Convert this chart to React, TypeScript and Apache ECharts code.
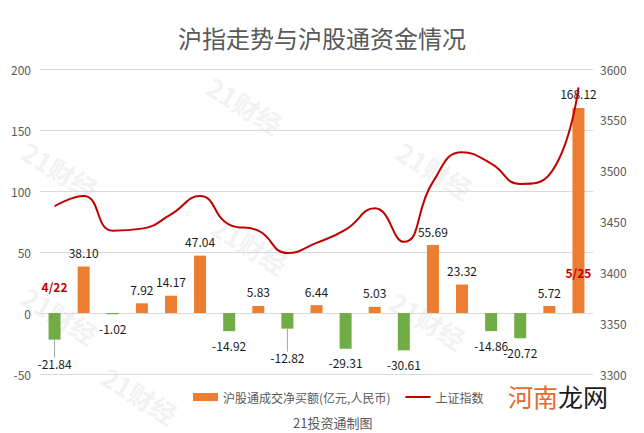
import React, { useEffect, useRef } from "react";
import * as echarts from "echarts";

const categories = ["4/22", "4/23", "4/26", "4/27", "4/28", "4/29", "4/30", "5/6", "5/7", "5/10", "5/11", "5/12", "5/13", "5/14", "5/17", "5/20", "5/21", "5/24", "5/25"];
const netBuy = [-21.84, 38.1, -1.02, 7.92, 14.17, 47.04, -14.92, 5.83, -12.82, 6.44, -29.31, 5.03, -30.61, 55.69, 23.32, -14.86, -20.72, 5.72, 168.12];
const indexValues = [3465, 3475, 3441, 3443, 3457, 3475, 3447, 3441, 3419, 3429, 3442, 3463, 3430, 3489, 3518, 3507, 3487, 3496, 3582];
const leftTicks = { min: -50, max: 200, interval: 50 };
const rightTicks = { min: 3300, max: 3600, interval: 50 };
const dateMarks = [
  { date: "4/22", at: 22 },
  { date: "5/25", at: 33 },
];
const watermarkSpots = [
  [245, 105],
  [60, 170],
  [435, 170],
  [250, 245],
  [60, 315],
  [428, 320],
  [140, 395],
];

const FONT = "'Microsoft YaHei', 'Noto Sans CJK SC', sans-serif";

export default function App() {
  const ref = useRef<HTMLDivElement>(null);
  useEffect(() => {
    document.body.style.margin = "0";
    if (!ref.current) return;
    const chart = echarts.init(ref.current, undefined, { renderer: "svg" });
    const watermarks = watermarkSpots.map(([x, y]) => ({
      type: "text",
      x,
      y,
      rotation: -0.55,
      z: -10,
      silent: true,
      style: {
        text: "21财经",
        fill: "rgba(200,200,200,0.22)",
        font: "bold 26px 'Noto Sans CJK SC', sans-serif",
        align: "center",
        verticalAlign: "middle",
      },
    }));
    chart.setOption({
      animation: false,
      backgroundColor: "#ffffff",
      textStyle: { fontFamily: FONT },
      title: {
        text: "沪指走势与沪股通资金情况",
        left: "center",
        top: 20,
        textStyle: { fontSize: 24, fontWeight: "normal", color: "#595959", fontFamily: FONT },
      },
      legend: {
        left: 188,
        top: 386,
        itemGap: 15,
        itemWidth: 25,
        itemHeight: 8,
        textStyle: { fontSize: 12, color: "#595959", fontFamily: FONT },
        data: [
          { name: "沪股通成交净买额(亿元,人民币)", icon: "rect" },
          { name: "上证指数", icon: "path://M0,0 L25,0 L25,2 L0,2 Z" },
        ],
      },
      grid: { left: 40, right: 51, top: 69, bottom: 59 },
      xAxis: {
        type: "category",
        data: categories,
        axisLine: { show: false },
        axisTick: { show: false },
        axisLabel: { show: false },
      },
      yAxis: [
        {
          type: "value",
          ...leftTicks,
          axisLine: { show: false },
          axisTick: { show: false },
          axisLabel: { color: "#595959", fontSize: 12, margin: 9 },
          splitLine: { lineStyle: { color: "#d9d9d9" } },
        },
        {
          type: "value",
          ...rightTicks,
          axisLine: { show: false },
          axisTick: { show: false },
          axisLabel: { color: "#595959", fontSize: 12, margin: 7, formatter: (v: number) => String(v) },
          splitLine: { show: false },
        },
      ],
      series: [
        {
          name: "沪股通成交净买额(亿元,人民币)",
          type: "bar",
          barWidth: 12,
          itemStyle: { color: "#ED7D31" },
          data: netBuy.map((v, i) => ({
            value: v,
            itemStyle: { color: v >= 0 ? "#ED7D31" : "#70AD47" },
            label: { position: v >= 0 ? "top" : "bottom" },
            labelLine: i === 0 || i === 8 ? { show: true, lineStyle: { color: "#a6a6a6", width: 1 } } : { show: false },
          })),
          label: {
            show: true,
            distance: 8,
            color: "#1a1a1a",
            fontSize: 12,
            formatter: (p: any) => Number(p.value).toFixed(2),
          },
          labelLayout: (p: any) => {
            if (p.dataIndex === 0) return { dy: 10 };
            if (p.dataIndex === 8) return { dy: 15 };
            return {};
          },
          markPoint: {
            symbol: "circle",
            symbolSize: 0,
            label: {
              show: true,
              position: "inside",
              color: "#C00000",
              fontWeight: "bold",
              fontSize: 12,
              formatter: (p: any) => p.name,
            },
            data: dateMarks.map((m) => ({ name: m.date, coord: [m.date, m.at] })),
          },
        },
        {
          name: "上证指数",
          type: "line",
          yAxisIndex: 1,
          smooth: true,
          symbol: "none",
          lineStyle: { color: "#C00000", width: 2 },
          itemStyle: { color: "#C00000" },
          data: indexValues,
        },
      ],
      graphic: [
        ...watermarks,
        {
          type: "text",
          left: 293,
          top: 416,
          style: { text: "21投资通制图", fill: "#595959", font: `13px ${FONT}` },
        },
        {
          type: "text",
          left: 508,
          top: 383,
          style: {
            text: "{a|河南}{b|龙网}",
            rich: {
              a: { fill: "#E8692A", fontSize: 25, fontFamily: FONT },
              b: { fill: "#1a1a1a", fontSize: 25, fontFamily: FONT },
            },
          },
        },
      ],
    });
    return () => chart.dispose();
  }, []);
  return <div ref={ref} style={{ width: 644, height: 433 }} />;
}
